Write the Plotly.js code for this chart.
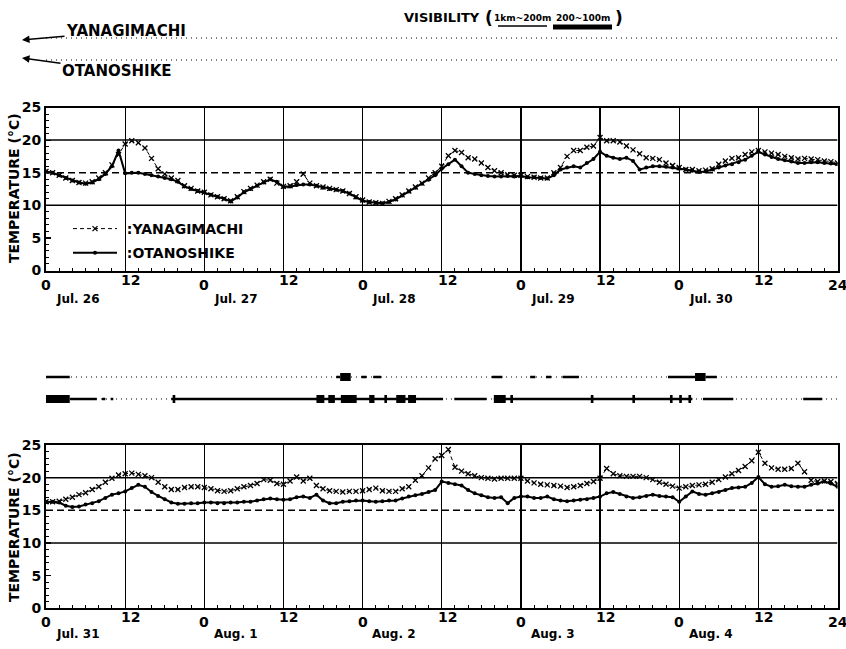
<!DOCTYPE html>
<html><head><meta charset="utf-8">
<script src="https://cdn.plot.ly/plotly-3.0.1.min.js"></script>
<style>body{margin:0;background:#fff}#chart{width:846px;height:649px}</style>
</head><body><div id="chart"></div>
<script>
// ---------- DATA ----------
const hours = [];
for (let h = 0; h <= 120; h++) hours.push(h);   // hourly time axis, 5 days

const daysP1 = ["Jul. 26", "Jul. 27", "Jul. 28", "Jul. 29", "Jul. 30"];
const daysP2 = ["Jul. 31", "Aug. 1", "Aug. 2", "Aug. 3", "Aug. 4"];
const hourTicks = [0, 12, 24, 36, 48, 60, 72, 84, 96, 108, 120];
const hourTickText = ["0", "12", "0", "12", "0", "12", "0", "12", "0", "12", "24"];

const yanagiP1 = [15.2,15.0,14.6,14.2,13.8,13.5,13.4,13.6,14.2,15.0,
  16.2,17.8,19.4,19.9,19.6,18.8,17.2,15.6,14.8,14.2,
  13.8,13.0,12.6,12.2,12.0,11.6,11.3,11.0,10.7,11.3,
  12.1,12.6,13.1,13.6,14.0,13.4,12.9,13.0,13.6,14.8,
  13.4,13.0,12.8,12.6,12.4,12.2,11.8,11.3,10.8,10.5,
  10.4,10.3,10.6,11.0,11.6,12.2,12.8,13.4,14.2,15.0,
  16.0,17.6,18.4,18.1,17.3,17.1,16.5,15.8,15.3,15.0,
  14.7,14.6,14.6,14.4,14.3,14.2,14.2,15.0,15.8,17.5,
  18.4,18.4,18.9,19.1,20.4,19.9,19.9,19.7,19.1,18.5,
  17.9,17.3,17.2,17.0,16.5,16.1,15.8,15.5,15.5,15.3,
  15.4,15.6,16.3,16.8,17.2,17.3,17.8,18.2,18.4,18.2,
  18.0,17.8,17.5,17.3,17.1,17.2,17.1,17.0,16.8,16.7,16.5];

const otanoP1 = [15.2,15.0,14.6,14.2,13.8,13.5,13.3,13.5,14.0,14.8,
  16.0,18.4,14.9,15.0,15.0,14.8,14.6,14.4,14.2,14.0,
  13.6,12.9,12.5,12.2,12.0,11.6,11.3,11.0,10.6,11.2,
  12.0,12.5,13.0,13.5,14.0,13.6,12.8,12.9,13.1,13.2,
  13.2,13.0,12.7,12.5,12.4,12.2,11.8,11.2,10.7,10.5,
  10.4,10.3,10.5,10.9,11.5,12.1,12.7,13.3,13.9,14.6,
  15.6,16.3,17.0,16.0,15.0,14.8,14.6,14.5,14.4,14.4,
  14.5,14.4,14.5,14.3,14.3,14.2,14.1,14.6,15.5,15.8,
  16.0,15.8,16.5,17.1,18.2,17.6,17.3,17.1,17.3,16.8,
  15.5,15.8,16.0,16.0,15.9,15.8,15.6,15.5,15.3,15.1,
  15.2,15.5,15.8,16.1,16.3,16.6,17.0,17.6,18.2,17.8,
  17.4,17.1,16.9,16.7,16.5,16.5,16.6,16.6,16.5,16.4,16.3];

const yanagiP2 = [16.3,16.3,16.4,16.7,17.0,17.4,17.7,18.2,18.6,19.3,
  19.9,20.4,20.6,20.7,20.5,20.3,20.0,19.3,18.6,18.2,
  18.2,18.5,18.6,18.6,18.5,18.3,18.0,17.9,18.0,18.3,
  18.6,18.8,19.1,19.7,19.6,19.1,19.0,19.5,20.1,19.5,
  19.9,18.8,18.3,18.0,17.9,17.8,17.9,17.9,18.0,18.2,
  18.4,18.0,17.9,17.9,18.3,18.6,19.6,20.3,21.5,22.9,
  23.4,24.3,21.6,21.0,20.6,20.3,20.0,19.9,19.8,19.9,
  19.9,19.9,19.9,19.5,19.2,19.0,18.9,18.8,18.7,18.5,
  18.6,18.8,19.1,19.4,19.9,21.4,20.6,20.3,20.2,20.2,
  20.2,20.0,19.7,19.3,19.0,18.7,18.4,18.6,18.8,18.9,
  19.0,19.3,19.7,20.1,20.6,21.1,21.7,22.6,23.9,22.2,
  21.5,21.3,21.3,21.4,22.2,20.9,19.6,19.4,19.5,19.4,19.1];

const otanoP2 = [16.3,16.3,16.2,15.7,15.5,15.6,15.9,16.1,16.4,16.9,
  17.4,17.6,17.9,18.4,18.9,18.6,17.8,17.2,16.7,16.2,
  16.0,16.0,16.1,16.1,16.2,16.2,16.1,16.1,16.2,16.2,
  16.3,16.3,16.5,16.7,16.8,16.7,16.6,16.7,17.0,17.1,
  16.9,17.4,16.5,16.1,16.1,16.3,16.4,16.5,16.5,16.4,
  16.3,16.4,16.5,16.5,16.8,17.1,17.3,17.5,17.8,18.1,
  19.4,19.2,19.0,18.8,18.1,17.6,17.3,17.0,16.9,17.0,
  16.1,16.9,17.1,17.1,16.9,16.9,17.1,16.7,16.5,16.4,
  16.5,16.6,16.7,16.9,17.1,17.6,17.8,17.5,17.1,16.9,
  17.0,17.2,17.4,17.2,17.1,17.0,16.3,17.1,17.9,17.5,
  17.4,17.6,17.8,18.1,18.4,18.5,18.6,19.2,20.1,19.0,
  18.6,18.7,18.9,18.7,18.6,18.6,18.9,19.1,19.4,19.1,18.6];

const referenceTemp = 15;
const solidLevels = [10, 20];

// Visibility periods (hours from start of each 5-day period): [start, end]
const visAll = [[0, 120]];                 // > 1 km (dotted)
const visY1_mid = [], visY1_thick = [], visO1_mid = [], visO1_thick = [];
const visY2_mid = [[0,3.6],[44.0,44.6],[47.8,48.6],[49.6,50.8],[67.6,69.2],[73.4,74.2],[75.8,76.6],[78.3,80.8],[94.3,98.4],[100,101.7]];
const visY2_thick = [[44.6,46.2],[98.4,100]];
const visO2_mid = [[3.6,7.7],[8.5,9.0],[9.8,10.2],[19,60.2],[61.9,66.8],[67.9,98],[99.6,104.2],[114.8,117.7]];
const visO2_thick = [[0,3.6],[19.2,19.6],[41,42.2],[42.8,43.8],[44.7,47.1],[49,49.8],[51.3,51.7],[53.1,54.5],[54.9,56.1],[67.9,69.7],[70.4,70.8],[82.6,83.0],[88.9,89.3],[94.6,95.0],[96,96.4],[97.4,97.8]];

// ---------- HELPERS ----------
const W = 846, H = 649;
const F = "'DejaVu Sans','Liberation Sans',sans-serif";
const px2x = p => p / W;
const py2y = p => 1 - p / H;
const XD = [px2x(46), px2x(837.5)];
const bold = (size) => ({family: F, size, color: '#000', weight: 'bold'});

function segs(list, yval) {
  const x = [], y = [];
  list.forEach(([a, b]) => { x.push(a, b, null); y.push(yval, yval, null); });
  return {x, y};
}

const traces = [];
function tempTraces(xa, ya, yan, ota, show) {
  traces.push({x: hours, y: yan, xaxis: xa, yaxis: ya, type: 'scatter', mode: 'lines+markers',
    name: '\u00a0:YANAGIMACHI', showlegend: show, legendgroup: 'a',
    line: {color: '#000', width: 1, dash: '4px,3px'},
    marker: {symbol: 'x-thin', size: 5, line: {color: '#000', width: 1.3}, color: '#000'}});
  traces.push({x: hours, y: ota, xaxis: xa, yaxis: ya, type: 'scatter', mode: 'lines+markers',
    name: '\u00a0:OTANOSHIKE', showlegend: show, legendgroup: 'b',
    line: {color: '#000', width: 2}, marker: {symbol: 'circle', size: 4, color: '#000'}});
}
tempTraces('x', 'y', yanagiP1, otanoP1, true);
tempTraces('x2', 'y2', yanagiP2, otanoP2, false);

function visTraces(xa, ya, mid, thick, yval) {
  const d = segs(visAll, yval);
  traces.push({x: d.x, y: d.y, xaxis: xa, yaxis: ya, mode: 'lines', showlegend: false, hoverinfo: 'skip',
    line: {color: '#000', width: 1.2, dash: '1px,4px'}});
  if (mid.length) { const m = segs(mid, yval);
    traces.push({x: m.x, y: m.y, xaxis: xa, yaxis: ya, mode: 'lines', showlegend: false, hoverinfo: 'skip',
      line: {color: '#000', width: 2.5}}); }
  if (thick.length) { const t = segs(thick, yval);
    traces.push({x: t.x, y: t.y, xaxis: xa, yaxis: ya, mode: 'lines', showlegend: false, hoverinfo: 'skip',
      line: {color: '#000', width: 8}}); }
}
visTraces('x3', 'y3', visY1_mid, visY1_thick, 2);
visTraces('x3', 'y3', visO1_mid, visO1_thick, 1);
visTraces('x4', 'y4', visY2_mid, visY2_thick, 2);
visTraces('x4', 'y4', visO2_mid, visO2_thick, 1);

function xax(anchor) {
  return {domain: XD, range: [0, 120], anchor, tickvals: hourTicks, ticktext: hourTickText,
    showticklabels: false, ticks: 'inside', ticklen: 5, tickcolor: '#000', tickwidth: 1.2,
    showgrid: true, gridcolor: '#000', gridwidth: 1.2, zeroline: false,
    showline: true, mirror: true, linecolor: '#000', linewidth: 2,
    minor: {dtick: 2, tick0: 0, ticks: 'inside', ticklen: 3, tickcolor: '#000', tickwidth: 1, showgrid: false},
    fixedrange: true};
}
function yax(domain, anchor) {
  return {domain, range: [0, 25], anchor, dtick: 5, tick0: 0, ticks: 'inside', ticklen: 5, tickcolor: '#000',
    tickwidth: 1.2, showgrid: false, zeroline: false, showline: true, mirror: true, linecolor: '#000', linewidth: 2,
    tickfont: bold(14), ticklabelstandoff: 0,
    minor: {dtick: 1, ticks: 'inside', ticklen: 3, tickcolor: '#000', tickwidth: 1},
    fixedrange: true};
}
function stripAx(domain, anchor) {
  return {domain, range: [0, 3], anchor, visible: false, fixedrange: true};
}
function stripX(anchor) {
  return {domain: XD, range: [0, 120], anchor, visible: false, fixedrange: true};
}

const shapes = [];
[['x', 'y'], ['x2', 'y2']].forEach(([xa, ya]) => {
  solidLevels.forEach(v => shapes.push({type: 'line', xref: xa, yref: ya, x0: 0, x1: 120, y0: v, y1: v,
    line: {color: '#000', width: 1.5}}));
  shapes.push({type: 'line', xref: xa, yref: ya, x0: 0, x1: 120, y0: referenceTemp, y1: referenceTemp,
    line: {color: '#000', width: 1.5, dash: '7px,4px'}});
});
// visibility key underlines
shapes.push({type: 'line', xref: 'paper', yref: 'paper', x0: px2x(498), x1: px2x(547), y0: py2y(26), y1: py2y(26),
  line: {color: '#000', width: 1.5}});
shapes.push({type: 'line', xref: 'paper', yref: 'paper', x0: px2x(553), x1: px2x(612), y0: py2y(27), y1: py2y(27),
  line: {color: '#000', width: 5}});

const ann = [];
function txt(pxx, pyy, text, size, extra) {
  ann.push(Object.assign({x: px2x(pxx), y: py2y(pyy), xref: 'paper', yref: 'paper', text, showarrow: false,
    xanchor: 'center', yanchor: 'middle', font: bold(size)}, extra || {}));
}
function addXLabels(xa, pyZero, pyTwelve, pyDate, days) {
  hourTicks.forEach((h, i) => {
    const isTwelve = hourTickText[i] === '12';
    ann.push({x: h + (isTwelve ? 0.8 : 0), xref: xa, y: py2y(isTwelve ? pyTwelve : pyZero), yref: 'paper',
      text: hourTickText[i], showarrow: false, xanchor: 'center', yanchor: 'middle', font: bold(14)});
  });
  days.forEach((d, i) => ann.push({x: i * 24 + 4.8, xref: xa, y: py2y(pyDate), yref: 'paper', text: d,
    showarrow: false, xanchor: 'center', yanchor: 'middle', font: bold(12)}));
}
addXLabels('x', 285, 280, 299, daysP1);
addXLabels('x2', 622, 617, 634, daysP2);

txt(14, 188, 'TEMPERATURE (°C)', 14, {textangle: -90});
txt(14, 527, 'TEMPERATURE (°C)', 14, {textangle: -90});

txt(442, 18, 'VISIBILITY', 13);
txt(489, 18, '(', 17);
txt(619, 18, ')', 17);
txt(522, 18, '1km~200m', 9);
txt(583, 18, '200~100m', 9);

ann.push({x: px2x(22), y: py2y(40), xref: 'paper', yref: 'paper', text: 'YANAGIMACHI', showarrow: true,
  ax: 104, ay: -9, xanchor: 'center', yanchor: 'middle', arrowhead: 2, arrowsize: 1, arrowwidth: 1.5, arrowcolor: '#000',
  font: bold(15)});
ann.push({x: px2x(22), y: py2y(58), xref: 'paper', yref: 'paper', text: 'OTANOSHIKE', showarrow: true,
  ax: 95, ay: 13, xanchor: 'center', yanchor: 'middle', arrowhead: 2, arrowsize: 1, arrowwidth: 1.5, arrowcolor: '#000',
  font: bold(15)});

const layout = {
  width: W, height: H, margin: {l: 0, r: 0, t: 0, b: 0},
  paper_bgcolor: '#fff', plot_bgcolor: '#fff',
  xaxis: xax('y'), yaxis: yax([py2y(270.5), py2y(107.5)], 'x'),
  xaxis2: xax('y2'), yaxis2: yax([py2y(608.3), py2y(445)], 'x2'),
  xaxis3: stripX('y3'), yaxis3: stripAx([py2y(82), py2y(16)], 'x3'),
  xaxis4: stripX('y4'), yaxis4: stripAx([py2y(421), py2y(355)], 'x4'),
  shapes, annotations: ann,
  showlegend: true,
  legend: {x: px2x(68), y: py2y(213), xanchor: 'left', yanchor: 'top', bgcolor: 'rgba(0,0,0,0)',
    itemwidth: 44, tracegroupgap: 3, font: bold(14)},
};
Plotly.newPlot('chart', traces, layout, {displayModeBar: false, staticPlot: true});
</script></body></html>
